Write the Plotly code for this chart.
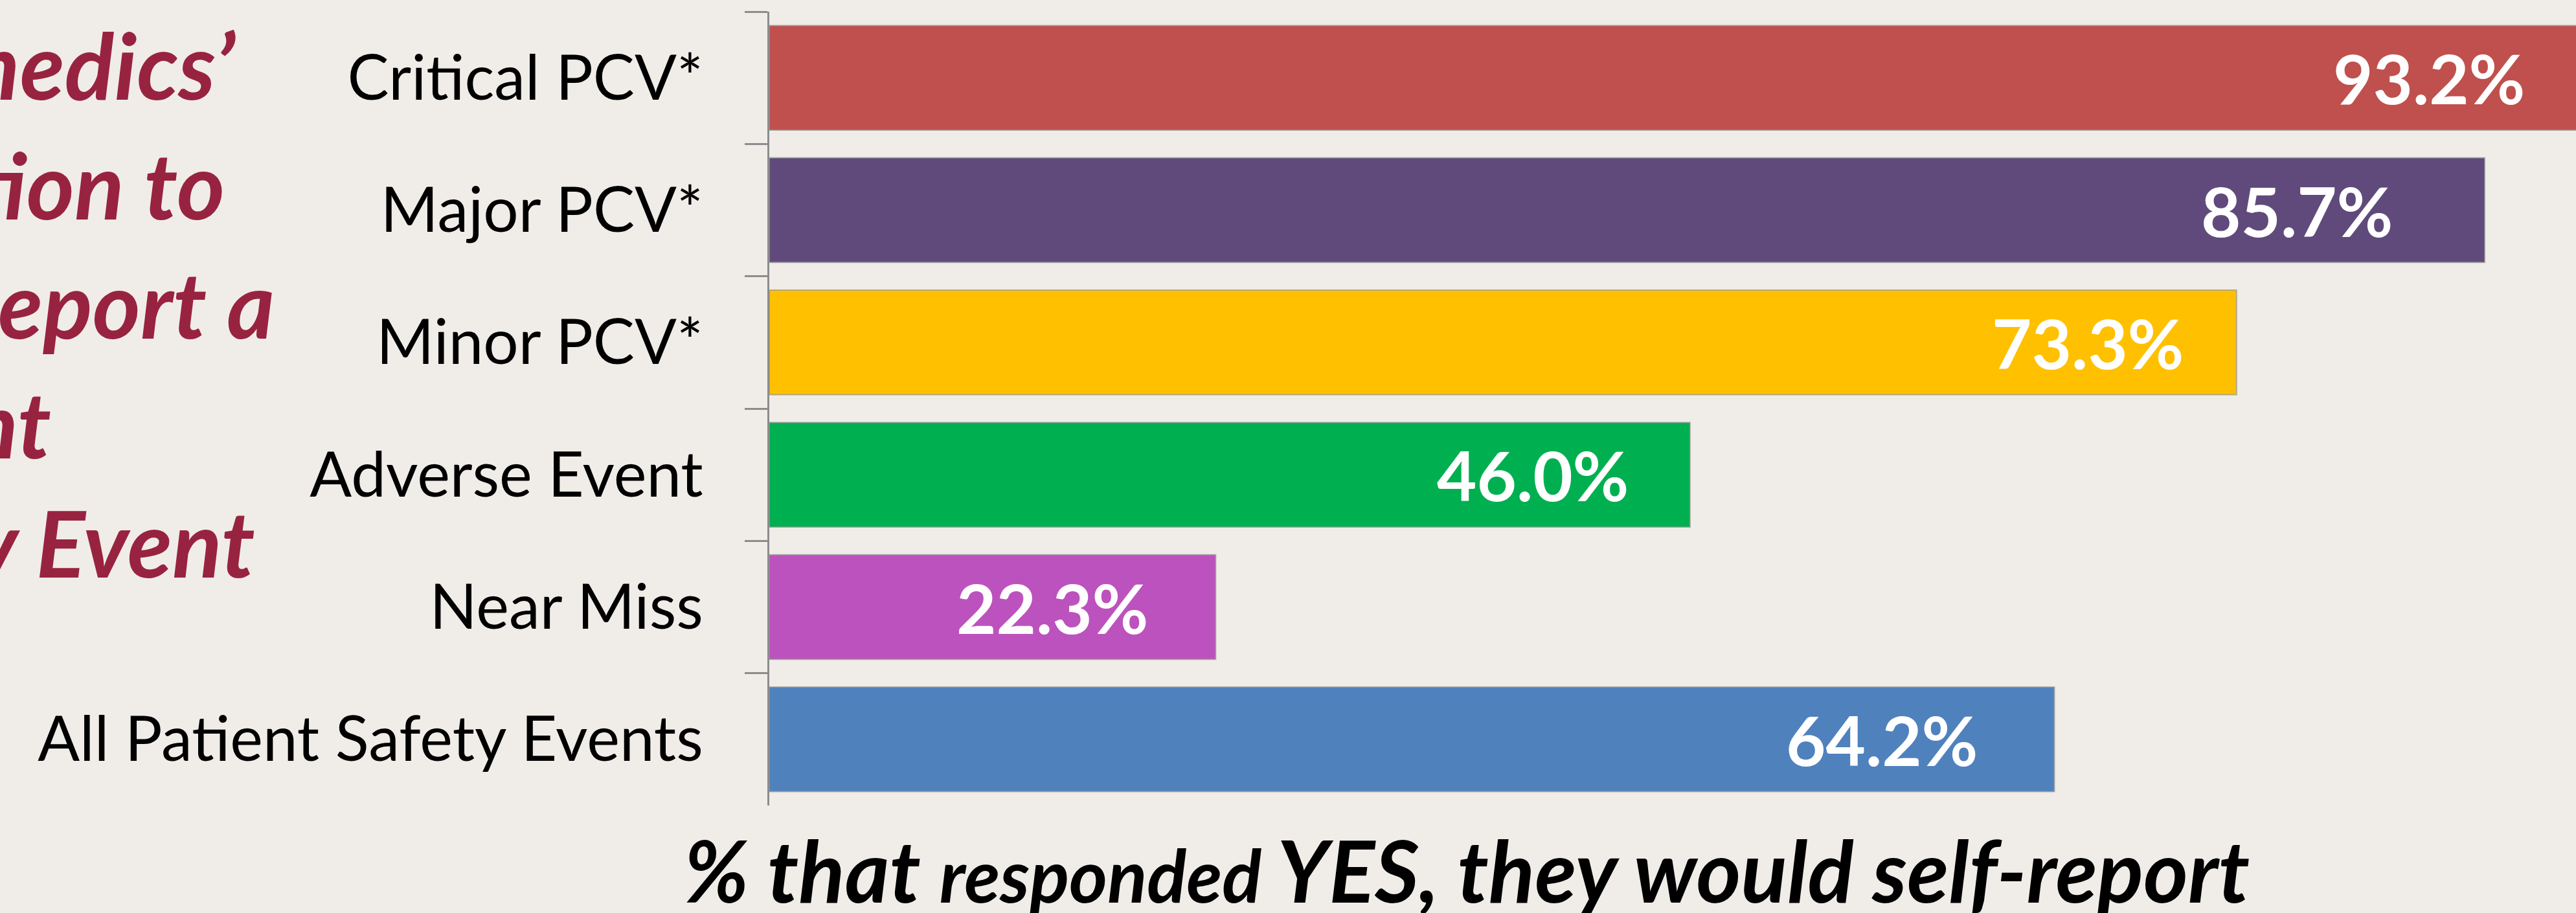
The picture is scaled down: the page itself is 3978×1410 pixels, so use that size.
import plotly.graph_objects as go

# ---- data ----
categories = ["Critical PCV*", "Major PCV*", "Minor PCV*", "Adverse Event",
              "Near Miss", "All Patient Safety Events"]
values = [93.2, 85.7, 73.3, 46.0, 22.3, 64.2]
bar_colors = ["#C0504D", "#604A7B", "#FFC000", "#00B050", "#BC52BD", "#4F81BD"]
label_shift = [-77, -140, -80, -93, -102, -116]  # style: label inset from bar end (px)

title_lines = ["Paramedics’", "Intention to", "Self-Report a", "Patient", "Safety Event"]
x_title_parts = ["% that ", "responded", " YES, they would self-report"]

XMAX = 90.26
BG = "#F0EDE8"
W, H = 3978, 1410
ML, MR, MT, MB = 1188, 0, 18, 166

fig = go.Figure()
fig.add_trace(go.Bar(
    x=values, y=categories, orientation="h",
    marker=dict(color=bar_colors, line=dict(color="rgba(150,150,150,0.7)", width=2)),
    showlegend=False, hoverinfo="skip",
))

annotations = []
for c, v, s in zip(categories, values, label_shift):
    annotations.append(dict(
        x=min(v, XMAX * 0.9999), y=c, xref="x", yref="y",
        text=f"{v:.1f}%", showarrow=False, xanchor="right", yanchor="middle",
        xshift=s,
        font=dict(family="Lato", size=106, color="white", weight="bold"),
    ))

# left title (partially off the page)
annotations.append(dict(
    x=-0.5540, y=0.633, xref="paper", yref="paper",
    text="<br>".join(title_lines), showarrow=False,
    xanchor="left", yanchor="middle", align="left",
    font=dict(family="Lato", size=142, color="#982340", weight="bold", style="italic"),
))

# x-axis title
annotations.append(dict(
    x=0.386, y=-0.0805, xref="paper", yref="paper",
    text=(x_title_parts[0] + '<span style="font-size:113px">' + x_title_parts[1]
          + "</span>" + x_title_parts[2]),
    showarrow=False, xanchor="center", yanchor="middle",
    font=dict(family="Lato", size=132, color="black", weight="bold", style="italic"),
))

fig.update_layout(
    width=W, height=H,
    margin=dict(l=ML, r=MR, t=MT, b=MB, pad=0),
    paper_bgcolor=BG, plot_bgcolor=BG,
    bargap=0.21,
    annotations=annotations,
    xaxis=dict(range=[0, XMAX], showgrid=False, zeroline=False, showline=False,
               showticklabels=False, ticks=""),
    yaxis=dict(autorange="reversed", showgrid=False, zeroline=False,
               showline=True, linecolor="#8C8C8C", linewidth=3,
               ticks="outside", ticklen=35, tickwidth=3, tickcolor="#8C8C8C",
               tickson="boundaries", ticklabelstandoff=80,
               tickfont=dict(family="Lato", size=96, color="black")),
)

fig.write_html("out.html")
